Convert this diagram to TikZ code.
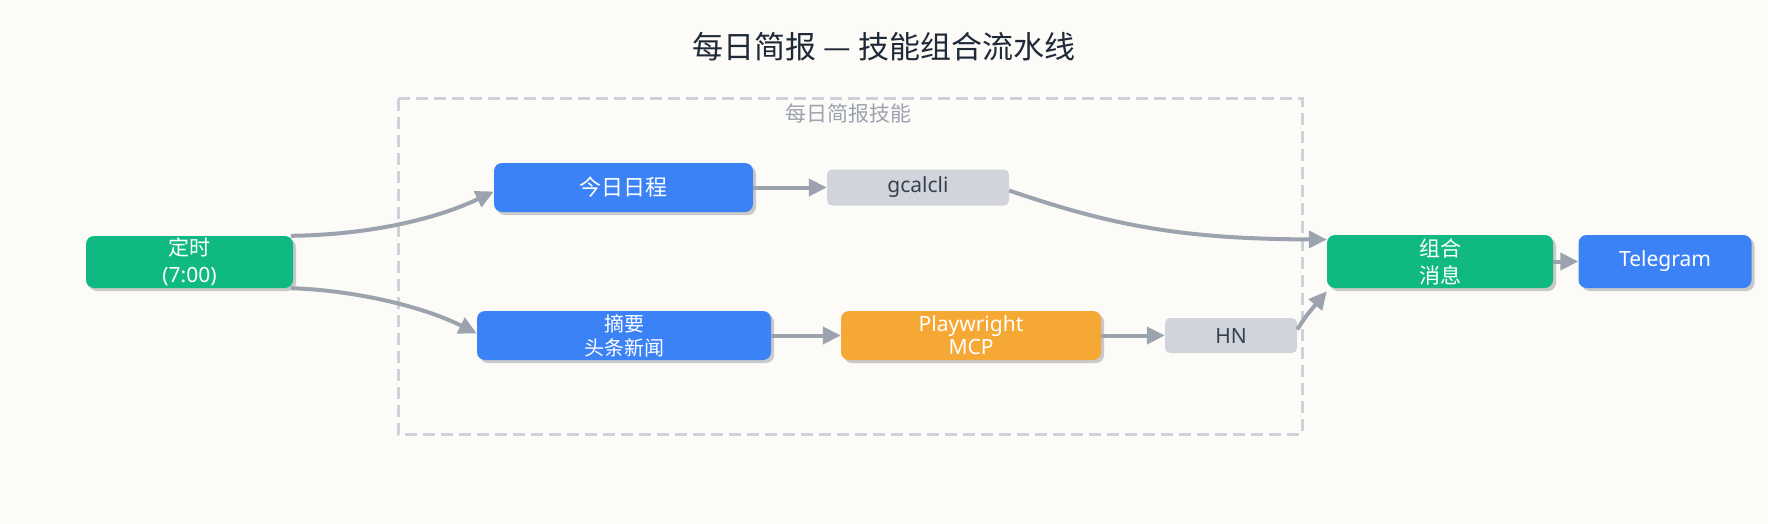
\documentclass[tikz,border=0pt]{standalone}
\usepackage{fontspec}
\setmainfont{Noto Sans}
\newfontfamily\cjk{Noto Sans CJK SC}
\usetikzlibrary{arrows.meta,shadows}
\definecolor{bg}{HTML}{FCFBF7}
\definecolor{grn}{HTML}{10B981}
\definecolor{blu}{HTML}{3B82F6}
\definecolor{org}{HTML}{F5A833}
\definecolor{gbox}{HTML}{D1D5DB}
\definecolor{gtxt}{HTML}{374151}
\definecolor{arrc}{HTML}{9CA3AF}
\definecolor{dsh}{HTML}{CDD2DA}
\definecolor{ttl}{HTML}{1F2937}
\definecolor{shd}{HTML}{C9C9C9}
\begin{document}
\begin{tikzpicture}[x=1pt,y=-1pt,
  base/.style={rounded corners=8pt, inner sep=0pt, align=center, text=white,
    font=\fontsize{21}{27}\selectfont},
  shadowed/.style={base, drop shadow={shadow xshift=3pt, shadow yshift=-3pt, fill=shd, opacity=1}},
  grnbox/.style={shadowed, fill=grn},
  blubox/.style={shadowed, fill=blu},
  orgbox/.style={shadowed, fill=org},
  graybox/.style={base, fill=gbox, text=gtxt, rounded corners=5pt},
  arr/.style={draw=arrc, line width=4pt, -{Triangle[length=18pt,width=17pt]}},
  group/.style={draw=dsh, line width=3pt, dash pattern=on 12pt off 6pt}
]
\useasboundingbox[fill=bg] (0,0) rectangle (1768,524);

\node[text=ttl, font=\cjk\fontsize{31}{35}\selectfont] (title) at (884,47) {每日简报 — 技能组合流水线};

\draw[group] (398,99) rectangle (1302,434);
\node[text=arrc, font=\cjk\fontsize{21}{24}\selectfont] (glabel) at (848,113) {每日简报技能};

\node[grnbox, minimum width=207pt, minimum height=52pt] (t) at (189.5,262) {{\cjk 定时}\\(7:00)};
\node[blubox, minimum width=259pt, minimum height=49pt, font=\cjk\fontsize{22}{26}\selectfont] (a) at (623.5,187.5) {今日日程};
\node[graybox, minimum width=182pt, minimum height=36pt] (g) at (918,187.5) {gcalcli};
\node[blubox, minimum width=294pt, minimum height=49pt, font=\cjk\fontsize{20}{24}\selectfont] (s) at (624,335.5) {摘要\\头条新闻};
\node[orgbox, minimum width=260pt, minimum height=49pt, font=\fontsize{21}{23}\selectfont] (p) at (971,335.5) {Playwright\\MCP};
\node[graybox, minimum width=132pt, minimum height=35pt] (h) at (1231,335.5) {HN};
\node[grnbox, minimum width=226pt, minimum height=53pt, font=\cjk\fontsize{21}{27}\selectfont] (c) at (1440,261.5) {组合\\消息};
\node[blubox, minimum width=173pt, minimum height=53pt] (tg) at (1665,261.5) {Telegram};

\draw[arr] ([xshift=-2pt]t.north east) .. controls (360,235) and (430,222) .. ([yshift=-4pt]a.west);
\draw[arr] ([xshift=-2pt]t.south east) .. controls (350,290) and (420,305) .. ([yshift=2pt]s.west);
\draw[arr] (a.east) -- (g.west);
\draw[arr] ([yshift=-3pt]g.east) .. controls (1110,225) and (1180,239) .. ([yshift=22pt]c.west);
\draw[arr] (s.east) -- (p.west);
\draw[arr] (p.east) -- (h.west);
\draw[arr] ([yshift=6pt]h.east) .. controls (1306,316) .. ([yshift=-3pt]c.south west);
\draw[arr] (c.east) -- (tg.west);
\end{tikzpicture}
\end{document}
